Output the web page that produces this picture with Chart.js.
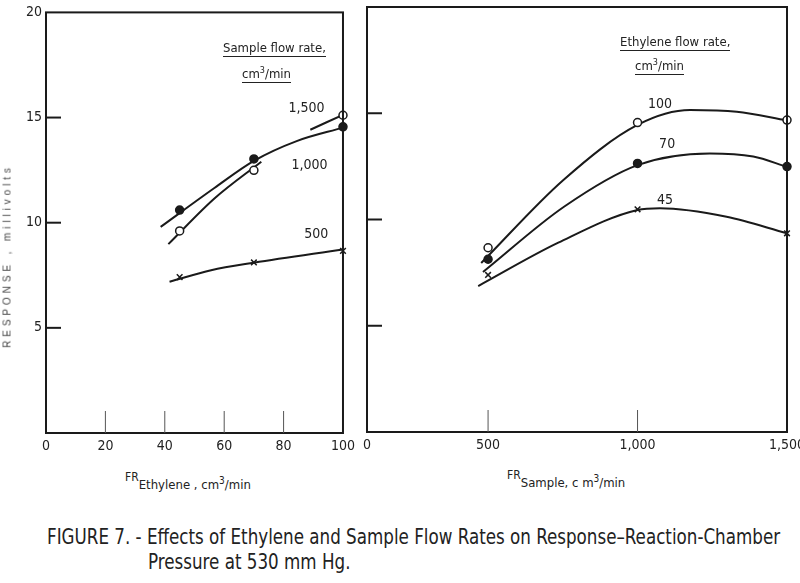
<!DOCTYPE html>
<html>
<head>
<meta charset="utf-8">
<script src="https://cdn.jsdelivr.net/npm/chart.js@4.4.0/dist/chart.umd.min.js"></script>
<style>
  html, body { margin: 0; background: #fff; overflow: hidden; }
  #wrap { position: relative; width: 800px; height: 583px; overflow: hidden;
    font-family: "Liberation Sans Narrow", "DejaVu Sans Condensed", sans-serif; color: #222; }
  canvas { position: absolute; top: 0; }
  #left { left: 0; }
  #right { left: 355px; }
  .note { position: absolute; font-size: 13px; line-height: 14px; white-space: nowrap; }
  .note span { display: inline-block; border-bottom: 1.5px solid #222; padding-bottom: 1px; }
  .axt { position: absolute; font-size: 12px; white-space: nowrap; }
  .axt .lo { position: relative; top: 8px; font-size: 13px; }
  .ytitle { position: absolute; left: 7px; top: 256px; font-family: "Liberation Sans", sans-serif;
    font-size: 10px; letter-spacing: 3.9px; color: #444; white-space: nowrap;
    transform: translate(-50%, -50%) rotate(-90deg); }
  .cap { position: absolute; font-size: 21.5px; white-space: nowrap; color: #222;
    transform-origin: 0 0; transform: scaleX(0.865); }
</style>
</head>
<body>
<div id="wrap">
  <canvas id="left" width="360" height="460"></canvas>
  <canvas id="right" width="460" height="460"></canvas>

  <div class="ytitle">RESPONSE , millivolts</div>

  <div class="note" style="left:223px; top:41px;"><span>Sample flow rate,</span></div>
  <div class="note" style="left:242px; top:63px;"><span>cm<sup style="font-size:9px">3</sup>/min</span></div>
  <div class="note" style="left:620px; top:35px;"><span>Ethylene flow rate,</span></div>
  <div class="note" style="left:635px; top:55px;"><span>cm<sup style="font-size:9px">3</sup>/min</span></div>

  <div class="axt" style="left:125px; top:467px;">FR<span class="lo">Ethylene , cm<sup style="font-size:10px">3</sup>/min</span></div>
  <div class="axt" style="left:507px; top:465px;">FR<span class="lo">Sample, c m<sup style="font-size:10px">3</sup>/min</span></div>

  <div class="cap" style="left:47px; top:524px;">FIGURE 7. - Effects of Ethylene and Sample Flow Rates on Response–Reaction-Chamber</div>
  <div class="cap" style="left:148px; top:549px;">Pressure at 530 mm Hg.</div>
</div>
<script>
// left panel: response vs ethylene flow, one series per sample flow rate
const ethyleneFlow = [45, 70, 100];
const sample1500 = [9.61, 12.49, 15.11];
const sample1000 = [10.6, 13.03, 14.56];
const sample500 = [7.41, 8.11, 8.66];

// hand-drawn fitted curves (null = pen lifted)
const fit1500X = [41.2, 56.8, 72.5, 80, 89, 100];
const fit1500Y = [8.98, 11.16, 12.9, null, 14.42, 15.13];
const fit1000X = [38.6, 56.7, 70, 84.4, 100];
const fit1000Y = [9.8, 11.65, 12.94, 13.88, 14.52];
const fit500X = [41.6, 55.6, 70, 100];
const fit500Y = [7.19, 7.74, 8.1, 8.73];

// right panel: response vs sample flow, one series per ethylene flow rate
const sampleFlow = [500, 1000, 1500];
const eth100 = [8.67, 14.56, 14.68];
const eth70 = [8.13, 12.64, 12.49];
const eth45 = [7.39, 10.48, 9.35];

const fit100X = [477, 752, 1000, 1176, 1332, 1500];
const fit100Y = [7.95, 11.86, 14.45, 15.15, 15.07, 14.66];
const fit70X = [483, 754, 1000, 1242, 1387, 1500];
const fit70Y = [7.53, 10.6, 12.56, 13.11, 12.96, 12.48];
const fit45X = [467, 735, 1000, 1075, 1298, 1500];
const fit45Y = [6.87, 8.91, 10.45, 10.53, 10.13, 9.35];

// ticks
const leftXTicks = [0, 20, 40, 60, 80, 100];
const rightXTicks = [0, 500, 1000, 1500];
const yTickLabels = [5, 10, 15, 20];
const innerYTicks = [5, 10, 15];
const leftInnerX = [20, 40, 60, 80];
const rightInnerX = [500, 1000];

// curve labels
const leftCurveNames = ['1,500', '1,000', '500'];
const rightCurveNames = ['100', '70', '45'];

const FONT = '"Liberation Sans Narrow", "DejaVu Sans Condensed", sans-serif';
const INK = '#1a1a1a';

function pts(xs, ys) {
  return xs.map((x, i) => ({ x: x, y: ys[i] }));
}

function curve(xs, ys) {
  return {
    data: pts(xs, ys),
    borderColor: INK,
    borderWidth: 2,
    pointRadius: 0,
    cubicInterpolationMode: 'monotone',
    spanGaps: false,
    clip: false
  };
}

function marks(xs, ys, style) {
  let ds = {
    data: pts(xs, ys),
    showLine: false,
    pointRadius: 4,
    borderColor: INK,
    borderWidth: 1.5,
    clip: false
  };
  if (style == 'open') {
    ds.pointStyle = 'circle';
    ds.pointBackgroundColor = '#fff';
  } else if (style == 'filled') {
    ds.pointStyle = 'circle';
    ds.pointBackgroundColor = INK;
  } else {
    ds.pointStyle = 'crossRot';
    ds.pointRadius = 4;
  }
  return ds;
}

const framePlugin = {
  id: 'frame',
  afterDatasetsDraw(chart, args, o) {
    const ctx = chart.ctx;
    const a = chart.chartArea;
    const x = chart.scales.x;
    const y = chart.scales.y;
    ctx.save();
    ctx.strokeStyle = INK;
    ctx.lineWidth = 2;
    ctx.strokeRect(a.left, a.top, a.right - a.left, a.bottom - a.top);
    ctx.lineWidth = 2;
    o.yTicks.forEach(v => {
      const py = y.getPixelForValue(v);
      ctx.beginPath();
      ctx.moveTo(a.left, py);
      ctx.lineTo(a.left + 15, py);
      ctx.stroke();
    });
    ctx.lineWidth = 1;
    ctx.strokeStyle = '#555';
    o.xTicks.forEach(v => {
      const px = x.getPixelForValue(v);
      ctx.beginPath();
      ctx.moveTo(px, a.bottom);
      ctx.lineTo(px, a.bottom - 22);
      ctx.stroke();
    });
    ctx.fillStyle = '#222';
    ctx.font = '14px ' + FONT;
    ctx.textAlign = 'center';
    ctx.textBaseline = 'middle';
    o.labels.forEach(l => {
      ctx.fillText(l.text, x.getPixelForValue(l.x), y.getPixelForValue(l.y));
    });
    ctx.restore();
  }
};

const tickFont = { family: FONT, size: 14 };

new Chart(document.getElementById('left'), {
  type: 'line',
  data: {
    datasets: [
      marks(ethyleneFlow, sample1500, 'open'),
      marks(ethyleneFlow, sample1000, 'filled'),
      marks(ethyleneFlow, sample500, 'x'),
      curve(fit1500X, fit1500Y),
      curve(fit1000X, fit1000Y),
      curve(fit500X, fit500Y)
    ]
  },
  options: {
    responsive: false,
    animation: false,
    events: [],
    layout: { padding: { left: 0, right: 13, top: 9, bottom: 0 } },
    plugins: {
      legend: { display: false },
      tooltip: { enabled: false },
      frame: {
        yTicks: innerYTicks,
        xTicks: leftInnerX,
        labels: [
          { text: leftCurveNames[0], x: 87.7, y: 15.42 },
          { text: leftCurveNames[1], x: 88.7, y: 12.74 },
          { text: leftCurveNames[2], x: 91, y: 9.43 }
        ]
      }
    },
    scales: {
      x: {
        type: 'linear', min: 0, max: 100,
        afterBuildTicks: s => { s.ticks = leftXTicks.map(v => ({ value: v })); },
        afterFit: s => { s.height = 27; },
        grid: { display: false, drawTicks: false },
        border: { display: false },
        ticks: { font: tickFont, color: '#222', padding: 5, maxRotation: 0, autoSkip: false }
      },
      y: {
        type: 'linear', min: 0, max: 20,
        afterBuildTicks: s => { s.ticks = yTickLabels.map(v => ({ value: v })); },
        afterFit: s => { s.width = 46; },
        grid: { display: false, drawTicks: false },
        border: { display: false },
        ticks: { font: tickFont, color: '#222', padding: 4 }
      }
    }
  },
  plugins: [framePlugin]
});

new Chart(document.getElementById('right'), {
  type: 'line',
  data: {
    datasets: [
      marks(sampleFlow, eth100, 'open'),
      marks(sampleFlow, eth70, 'filled'),
      marks(sampleFlow, eth45, 'x'),
      curve(fit100X, fit100Y),
      curve(fit70X, fit70Y),
      curve(fit45X, fit45Y)
    ]
  },
  options: {
    responsive: false,
    animation: false,
    events: [],
    layout: { padding: { left: 12, right: 28, top: 7, bottom: 0 } },
    plugins: {
      legend: { display: false },
      tooltip: { enabled: false },
      frame: {
        yTicks: innerYTicks,
        xTicks: rightInnerX,
        labels: [
          { text: rightCurveNames[0], x: 1075, y: 15.43 },
          { text: rightCurveNames[1], x: 1099, y: 13.55 },
          { text: rightCurveNames[2], x: 1092, y: 10.92 }
        ]
      }
    },
    scales: {
      x: {
        // axis is broken near the origin in the figure: left edge is labelled 0
        type: 'linear', min: 95, max: 1500,
        afterBuildTicks: s => {
          s.ticks = rightXTicks.map(v => ({ value: v == 0 ? s.min : v }));
        },
        afterFit: s => { s.height = 28; },
        grid: { display: false, drawTicks: false },
        border: { display: false },
        ticks: {
          font: tickFont, color: '#222', padding: 5, maxRotation: 0, autoSkip: false,
          callback: function (v, i) { return rightXTicks[i].toLocaleString('en-US'); }
        }
      },
      y: {
        type: 'linear', min: 0, max: 20, display: false
      }
    }
  },
  plugins: [framePlugin]
});
</script>
</body>
</html>
